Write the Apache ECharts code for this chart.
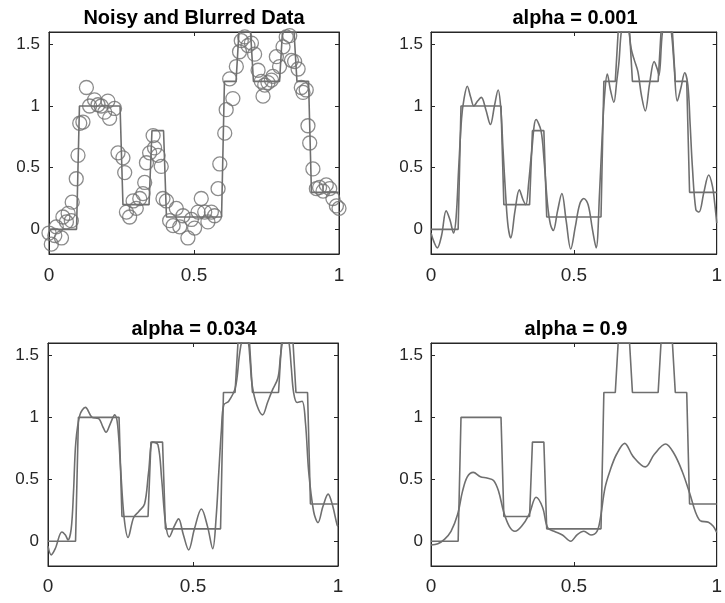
<!DOCTYPE html>
<html>
<head>
<meta charset="utf-8">
<script src="https://cdn.jsdelivr.net/npm/echarts@6/dist/echarts.min.js"></script>
<style>
html,body{margin:0;padding:0;background:#fff;}
#chart{width:725px;height:603px;}
</style>
</head>
<body>
<div id="chart"></div>
<script>
// ---------- data ----------
const titles = ['Noisy and Blurred Data', 'alpha = 0.001', 'alpha = 0.034', 'alpha = 0.9'];
const xTicks = [0, 0.5, 1];
const yTicks = [0, 0.5, 1, 1.5];

// true piecewise-constant signal: edges and levels
const stepEdges  = [0, 0.1, 0.25, 0.35, 0.4, 0.6, 0.65, 0.7, 0.8, 0.85, 0.9, 1.0];
const stepLevels = [0, 1, 0.2, 0.8, 0.1, 1.2, 1.6, 1.2, 1.6, 1.2, 0.3];

// noisy and blurred observations
const noisyX = [0.000,0.008,0.020,0.025,0.043,0.048,0.060,0.066,0.077,0.080,0.094,0.100,0.106,0.117,0.129,0.140,0.157,0.169,0.180,0.192,0.203,0.209,0.226,0.238,0.255,0.261,0.267,0.278,0.290,0.301,0.313,0.324,0.330,0.336,0.347,0.359,0.364,0.376,0.387,0.393,0.405,0.416,0.428,0.439,0.451,0.462,0.479,0.491,0.502,0.514,0.525,0.537,0.548,0.560,0.571,0.583,0.589,0.606,0.611,0.623,0.634,0.646,0.657,0.663,0.675,0.686,0.698,0.709,0.721,0.732,0.738,0.744,0.755,0.767,0.772,0.784,0.795,0.807,0.818,0.830,0.836,0.847,0.859,0.870,0.876,0.887,0.893,0.899,0.910,0.922,0.933,0.945,0.956,0.968,0.979,0.991,1.000];
const noisyY = [-0.03,-0.12,-0.05,0.02,-0.07,0.10,0.06,0.13,0.07,0.22,0.41,0.60,0.86,0.87,1.15,1.00,1.05,1.01,1.00,0.95,1.04,0.90,0.98,0.62,0.58,0.46,0.14,0.10,0.23,0.17,0.25,0.29,0.38,0.54,0.62,0.76,0.66,0.60,0.51,0.25,0.23,0.07,0.03,0.17,0.02,0.11,-0.07,0.08,0.01,0.14,0.25,0.14,0.06,0.14,0.11,0.33,0.53,0.78,0.97,1.22,1.06,1.32,1.44,1.53,1.56,1.49,1.51,1.42,1.29,1.20,1.08,1.17,1.19,1.21,1.24,1.40,1.32,1.48,1.56,1.57,1.37,1.36,1.30,1.15,1.11,1.13,0.84,0.70,0.49,0.33,0.34,0.31,0.36,0.33,0.25,0.19,0.17];

// reconstruction, alpha = 0.001
const a001X = [0.000,0.010,0.022,0.037,0.053,0.066,0.079,0.088,0.097,0.107,0.115,0.127,0.139,0.150,0.163,0.176,0.192,0.208,0.222,0.235,0.244,0.252,0.262,0.270,0.279,0.294,0.309,0.322,0.332,0.342,0.352,0.368,0.385,0.396,0.408,0.418,0.428,0.443,0.458,0.473,0.489,0.505,0.520,0.535,0.550,0.565,0.578,0.590,0.600,0.608,0.617,0.628,0.640,0.650,0.658,0.666,0.680,0.693,0.701,0.712,0.724,0.737,0.750,0.765,0.781,0.792,0.798,0.810,0.825,0.840,0.850,0.862,0.875,0.888,0.899,0.907,0.915,0.927,0.938,0.955,0.972,0.985,0.993,1.000];
const a001Y = [-0.03,-0.10,-0.15,-0.05,0.15,0.08,-0.03,0.10,0.50,0.90,1.05,1.16,1.07,1.00,1.04,1.07,0.97,0.85,1.00,1.13,0.99,0.65,0.25,0.02,-0.07,0.15,0.32,0.24,0.20,0.38,0.62,0.89,0.80,0.55,0.20,0.04,-0.01,0.15,0.29,0.07,-0.16,0.02,0.20,0.25,0.20,0.00,-0.15,0.30,0.80,1.10,1.26,1.13,1.03,1.20,1.36,1.60,1.75,1.60,1.46,1.37,1.28,1.08,0.96,1.18,1.36,1.30,1.25,1.60,1.75,1.62,1.36,1.04,1.15,1.27,1.17,0.85,0.50,0.16,0.14,0.30,0.44,0.35,0.21,0.05];

// reconstruction, alpha = 0.034
const a034X = [0.000,0.011,0.025,0.048,0.060,0.069,0.080,0.088,0.096,0.110,0.129,0.152,0.175,0.188,0.200,0.215,0.230,0.240,0.250,0.262,0.276,0.295,0.313,0.333,0.347,0.361,0.379,0.392,0.405,0.418,0.435,0.450,0.467,0.485,0.505,0.529,0.550,0.568,0.580,0.589,0.598,0.606,0.623,0.646,0.660,0.669,0.680,0.690,0.697,0.704,0.720,0.740,0.757,0.772,0.793,0.802,0.810,0.820,0.830,0.839,0.847,0.859,0.876,0.888,0.899,0.916,0.931,0.948,0.966,0.980,0.997,1.000];
const a034Y = [-0.04,-0.11,-0.06,0.075,0.05,0.01,0.10,0.40,0.80,1.02,1.08,1.00,0.99,0.93,0.88,0.95,1.02,0.94,0.60,0.20,0.03,0.19,0.24,0.30,0.56,0.80,0.78,0.50,0.15,0.035,0.12,0.18,0.05,-0.07,0.10,0.26,0.12,-0.06,0.20,0.56,0.90,1.10,1.13,1.24,1.50,1.62,1.65,1.62,1.45,1.26,1.10,1.02,1.12,1.21,1.32,1.50,1.62,1.65,1.62,1.40,1.20,1.12,1.13,0.95,0.56,0.24,0.15,0.28,0.38,0.30,0.13,0.12];

// reconstruction, alpha = 0.9
const a9X = [0.000,0.024,0.047,0.070,0.093,0.110,0.127,0.148,0.173,0.196,0.219,0.237,0.254,0.274,0.294,0.317,0.343,0.368,0.391,0.408,0.431,0.460,0.489,0.512,0.535,0.560,0.581,0.592,0.609,0.626,0.649,0.678,0.707,0.750,0.781,0.821,0.850,0.879,0.907,0.925,0.942,0.971,0.988,1.000];
const a9Y = [-0.03,-0.02,0.015,0.08,0.215,0.40,0.52,0.556,0.52,0.51,0.49,0.40,0.24,0.12,0.08,0.12,0.215,0.355,0.27,0.11,0.08,0.05,0.00,0.054,0.08,0.05,0.08,0.175,0.43,0.565,0.70,0.79,0.685,0.60,0.70,0.785,0.71,0.565,0.375,0.24,0.167,0.153,0.12,0.07];

// ---------- build ----------
const RAMP = 0.01;
function stepPoints(edges, levels) {
  const pts = [];
  for (let i = 0; i < levels.length; i++) {
    const s = i === 0 ? edges[0] : edges[i] + RAMP / 2;
    const e = i === levels.length - 1 ? edges[i + 1] : edges[i + 1] - RAMP / 2;
    pts.push([s, levels[i]], [e, levels[i]]);
  }
  return pts;
}
const zip = (xs, ys) => xs.map((x, i) => [x, ys[i]]);

const FONT = "'Liberation Sans', Arial, Helvetica, sans-serif";
const AX = '#262626';
const LINE = '#6f6f6f';

const grids = [
  {left: 49, top: 32, width: 290, height: 222},
  {left: 431, top: 32, width: 291, height: 222},
  {left: 48, top: 343, width: 290, height: 223},
  {left: 431, top: 343, width: 291, height: 223}
].map(g => Object.assign(g, {show: true, borderColor: AX, borderWidth: 1, backgroundColor: 'transparent'}));
const titlePos = [[194, 8], [575, 8], [194, 319], [576, 319]];
const xMargins = [12, 12, 11, 11];
const yMargins = [9, 8, 9, 8];

const xAxes = [], yAxes = [], series = [];
grids.forEach((g, i) => {
  const tick = {show: true, inside: true, length: 4, lineStyle: {color: AX}};
  const line = {show: true, onZero: false, lineStyle: {color: AX, width: 1}};
  xAxes.push({
    gridIndex: i, type: 'value', position: 'bottom', min: 0, max: 1,
    axisLine: line, splitLine: {show: false},
    axisTick: Object.assign({customValues: xTicks}, tick),
    axisLabel: {customValues: xTicks, margin: xMargins[i], color: AX, fontSize: 19, fontFamily: FONT}
  });
  xAxes.push({
    gridIndex: i, type: 'value', position: 'top', min: 0, max: 1,
    axisLine: line, splitLine: {show: false},
    axisTick: Object.assign({customValues: xTicks}, tick),
    axisLabel: {show: false}
  });
  yAxes.push({
    gridIndex: i, type: 'value', position: 'left', min: -0.2, max: 1.6,
    axisLine: line, splitLine: {show: false},
    axisTick: Object.assign({customValues: yTicks}, tick),
    axisLabel: {customValues: yTicks, margin: yMargins[i], color: AX, fontSize: 17, fontFamily: FONT}
  });
  yAxes.push({
    gridIndex: i, type: 'value', position: 'right', min: -0.2, max: 1.6,
    axisLine: line, splitLine: {show: false},
    axisTick: Object.assign({customValues: yTicks}, tick),
    axisLabel: {show: false}
  });

  series.push({
    type: 'line', xAxisIndex: 2 * i, yAxisIndex: 2 * i,
    data: stepPoints(stepEdges, stepLevels), showSymbol: false, symbol: 'none',
    lineStyle: {color: LINE, width: 1.6}, animation: false, silent: true, clip: true
  });
});

series.push({
  type: 'scatter', xAxisIndex: 0, yAxisIndex: 0, data: zip(noisyX, noisyY),
  symbol: 'circle', symbolSize: 14,
  itemStyle: {color: 'rgba(0,0,0,0)', borderColor: LINE, borderWidth: 1.3},
  animation: false, silent: true
});
[[a001X, a001Y], [a034X, a034Y], [a9X, a9Y]].forEach((d, k) => {
  const i = k + 1;
  series.push({
    type: 'line', xAxisIndex: 2 * i, yAxisIndex: 2 * i,
    data: zip(d[0], d[1]), symbol: 'none', smooth: 0.35,
    lineStyle: {color: LINE, width: 1.6}, animation: false, silent: true, clip: true
  });
});

const option = {
  backgroundColor: '#fff',
  animation: false,
  title: titles.map((t, i) => ({
    text: t, left: titlePos[i][0], top: titlePos[i][1], textAlign: 'center', padding: 0,
    textStyle: {fontSize: 20, fontWeight: 'bold', color: '#000', fontFamily: FONT}
  })),
  grid: grids,
  xAxis: xAxes,
  yAxis: yAxes,
  series: series
};
const chart = echarts.init(document.getElementById('chart'), null, {renderer: 'canvas'});
chart.setOption(option);
</script>
</body>
</html>
